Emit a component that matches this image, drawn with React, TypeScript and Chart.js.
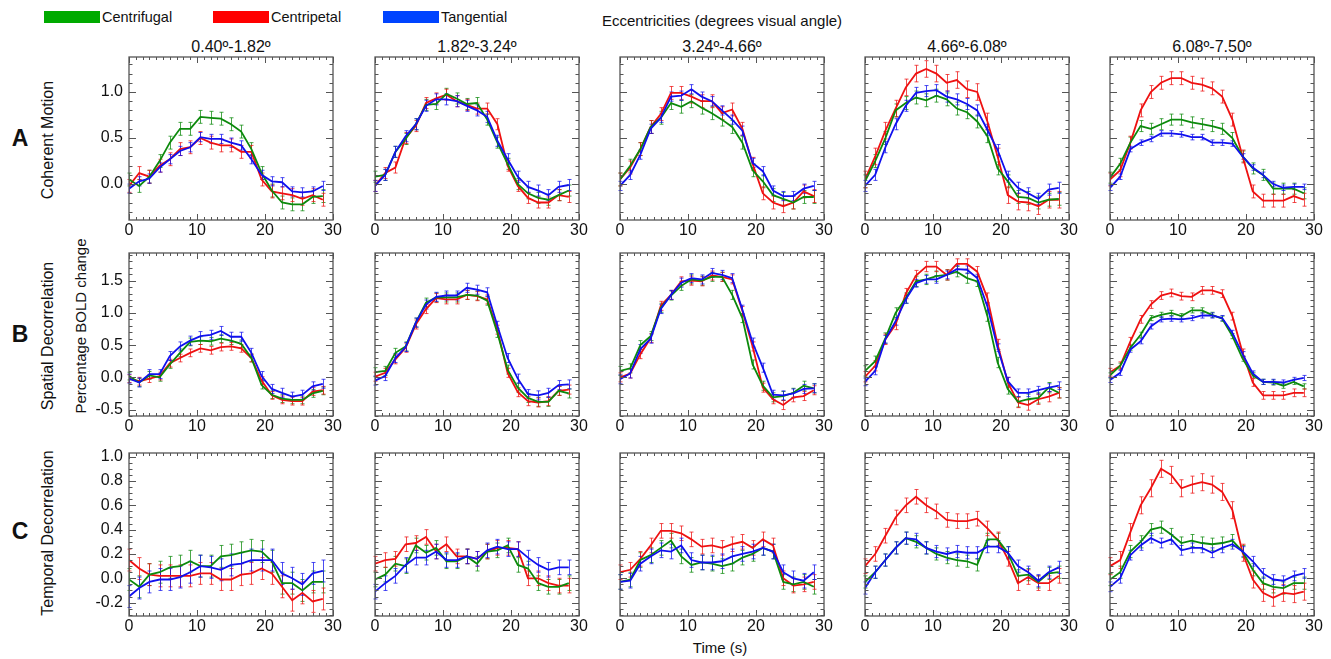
import React, { useEffect, useRef } from "react";
import { Chart, registerables } from "chart.js";

Chart.register(...registerables);

const FONT = '"Liberation Sans", Arial, Helvetica, sans-serif';
Chart.defaults.font.family = FONT;

// ---------- DATA ----------
const times = [0, 1.5, 3, 4.5, 6, 7.5, 9, 10.5, 12, 13.5, 15, 16.5, 18, 19.5, 21, 22.5, 24, 25.5, 27, 28.5];

const seriesNames = ["Centrifugal", "Centripetal", "Tangential"];
const columnTitles = ["0.40º-1.82º", "1.82º-3.24º", "3.24º-4.66º", "4.66º-6.08º", "6.08º-7.50º"];
const rowLetters = ["A", "B", "C"];
const rowTitles = ["Coherent Motion", "Spatial Decorrelation", "Temporal Decorrelation"];
const supTitle = "Eccentricities (degrees visual angle)";
const yAxisTitle = "Percentage BOLD change";
const xAxisTitle = "Time (s)";

const xTickValues = [0, 10, 20, 30];
const yTicksA = [0, 0.5, 1.0];
const yTicksB = [-0.5, 0, 0.5, 1.0, 1.5];
const yTicksC = [-0.2, 0, 0.2, 0.4, 0.6, 0.8, 1.0];
const yRangeA = [-0.39, 1.38];
const yRangeB = [-0.6, 1.93];
const yRangeC = [-0.31, 1.03];

// Row A: Coherent Motion (green = centrifugal, red = centripetal, blue = tangential)
const A1_green = [0.05, -0.02, 0.08, 0.25, 0.45, 0.6, 0.6, 0.73, 0.72, 0.71, 0.65, 0.57, 0.38, 0.12, -0.07, -0.2, -0.22, -0.22, -0.14, -0.13];
const A1_red = [-0.02, 0.12, 0.08, 0.2, 0.27, 0.38, 0.4, 0.5, 0.45, 0.42, 0.42, 0.35, 0.35, 0.05, -0.08, -0.1, -0.12, -0.16, -0.12, -0.17];
const A1_blue = [-0.05, 0.03, 0.06, 0.18, 0.27, 0.36, 0.4, 0.51, 0.49, 0.49, 0.45, 0.42, 0.27, 0.1, 0.03, 0.02, -0.08, -0.09, -0.08, -0.02];
const A2_green = [0.08, 0.1, 0.35, 0.49, 0.65, 0.86, 0.87, 0.98, 0.93, 0.87, 0.88, 0.7, 0.45, 0.22, 0.0, -0.1, -0.15, -0.17, -0.12, -0.07];
const A2_red = [-0.02, 0.12, 0.18, 0.5, 0.63, 0.88, 0.93, 0.97, 0.9, 0.86, 0.82, 0.82, 0.65, 0.2, -0.02, -0.15, -0.2, -0.2, -0.12, -0.14];
const A2_blue = [-0.02, 0.1, 0.35, 0.52, 0.65, 0.85, 0.92, 0.92, 0.9, 0.85, 0.8, 0.73, 0.47, 0.27, 0.08, -0.03, -0.07, -0.12, -0.03, -0.01];
const A3_green = [0.05, 0.2, 0.38, 0.62, 0.72, 0.88, 0.84, 0.9, 0.83, 0.77, 0.7, 0.62, 0.45, 0.15, 0.03, -0.12, -0.16, -0.2, -0.14, -0.14];
const A3_red = [0.05, 0.18, 0.38, 0.62, 0.76, 0.99, 0.99, 0.95, 0.9, 0.9, 0.77, 0.81, 0.6, 0.22, -0.1, -0.2, -0.24, -0.2, -0.08, -0.13];
const A3_blue = [-0.02, 0.1, 0.32, 0.6, 0.72, 0.95, 0.96, 1.03, 0.95, 0.9, 0.8, 0.7, 0.58, 0.23, 0.14, -0.07, -0.13, -0.13, -0.05, -0.02];
const A4_green = [0.03, 0.25, 0.5, 0.8, 0.88, 0.94, 0.91, 0.96, 0.92, 0.82, 0.78, 0.68, 0.52, 0.17, 0.03, -0.14, -0.15, -0.2, -0.17, -0.16];
const A4_red = [0.05, 0.3, 0.58, 0.82, 1.05, 1.2, 1.25, 1.2, 1.1, 1.13, 1.03, 1.0, 0.68, 0.3, -0.12, -0.19, -0.2, -0.24, -0.17, -0.17];
const A4_blue = [-0.02, 0.1, 0.4, 0.65, 0.85, 0.99, 1.01, 1.02, 0.95, 0.92, 0.87, 0.8, 0.59, 0.37, 0.08, -0.04, -0.1, -0.16, -0.06, -0.04];
const A5_green = [0.07, 0.22, 0.45, 0.63, 0.6, 0.65, 0.7, 0.7, 0.67, 0.65, 0.63, 0.6, 0.5, 0.3, 0.17, 0.1, -0.05, -0.05, -0.05, -0.1];
const A5_red = [0.05, 0.15, 0.45, 0.8, 1.0, 1.1, 1.15, 1.15, 1.1, 1.08, 1.04, 0.95, 0.7, 0.3, -0.08, -0.18, -0.18, -0.18, -0.13, -0.17];
const A5_blue = [-0.04, 0.08, 0.38, 0.45, 0.49, 0.55, 0.55, 0.54, 0.51, 0.51, 0.45, 0.45, 0.44, 0.3, 0.18, 0.1, 0.0, -0.04, -0.03, -0.03];

// Row B: Spatial Decorrelation
const B1_green = [0.02, -0.08, 0.03, 0.0, 0.2, 0.38, 0.55, 0.57, 0.56, 0.6, 0.57, 0.52, 0.3, -0.12, -0.27, -0.33, -0.35, -0.35, -0.25, -0.21];
const B1_red = [-0.02, -0.06, -0.02, 0.02, 0.22, 0.3, 0.38, 0.45, 0.42, 0.47, 0.48, 0.45, 0.3, -0.05, -0.28, -0.35, -0.37, -0.37, -0.22, -0.2];
const B1_blue = [-0.02, -0.08, 0.05, 0.05, 0.33, 0.48, 0.57, 0.64, 0.66, 0.72, 0.63, 0.63, 0.38, 0.02, -0.18, -0.24, -0.3, -0.27, -0.14, -0.1];
const B2_green = [0.08, 0.1, 0.38, 0.48, 0.85, 1.16, 1.24, 1.24, 1.24, 1.28, 1.27, 1.19, 0.69, 0.12, -0.16, -0.32, -0.38, -0.38, -0.21, -0.25];
const B2_red = [0.01, 0.07, 0.28, 0.46, 0.82, 1.06, 1.23, 1.21, 1.21, 1.28, 1.26, 1.21, 0.74, 0.07, -0.23, -0.37, -0.39, -0.37, -0.21, -0.19];
const B2_blue = [-0.05, 0.02, 0.3, 0.47, 0.85, 1.13, 1.25, 1.27, 1.27, 1.39, 1.36, 1.32, 0.8, 0.3, -0.02, -0.26, -0.28, -0.24, -0.12, -0.11];
const B3_green = [0.1, 0.14, 0.5, 0.64, 1.08, 1.27, 1.42, 1.52, 1.5, 1.56, 1.56, 1.28, 0.92, 0.2, -0.13, -0.31, -0.29, -0.24, -0.13, -0.17];
const B3_red = [0.0, 0.06, 0.36, 0.61, 1.11, 1.28, 1.49, 1.5, 1.49, 1.58, 1.56, 1.52, 1.03, 0.48, -0.16, -0.34, -0.43, -0.31, -0.29, -0.2];
const B3_blue = [-0.03, 0.06, 0.44, 0.6, 1.06, 1.28, 1.47, 1.54, 1.52, 1.62, 1.59, 1.54, 1.05, 0.54, 0.15, -0.27, -0.28, -0.25, -0.18, -0.17];
const B4_green = [0.1, 0.25, 0.61, 1.0, 1.23, 1.49, 1.52, 1.57, 1.59, 1.64, 1.54, 1.49, 0.95, 0.23, -0.18, -0.38, -0.34, -0.32, -0.16, -0.24];
const B4_red = [0.01, 0.18, 0.59, 0.82, 1.3, 1.58, 1.72, 1.72, 1.59, 1.76, 1.76, 1.64, 1.23, 0.51, -0.08, -0.39, -0.43, -0.34, -0.3, -0.24];
const B4_blue = [-0.07, 0.1, 0.59, 0.87, 1.21, 1.46, 1.52, 1.52, 1.59, 1.68, 1.67, 1.54, 1.1, 0.46, -0.06, -0.24, -0.24, -0.2, -0.16, -0.13];
const B5_green = [0.03, 0.18, 0.46, 0.66, 0.92, 0.97, 1.0, 0.95, 1.04, 1.04, 0.97, 0.91, 0.64, 0.29, 0.03, -0.07, -0.08, -0.13, -0.07, -0.14];
const B5_red = [0.08, 0.18, 0.56, 0.9, 1.13, 1.27, 1.31, 1.26, 1.25, 1.35, 1.35, 1.3, 0.95, 0.38, -0.08, -0.28, -0.28, -0.28, -0.24, -0.24];
const B5_blue = [-0.04, 0.07, 0.43, 0.56, 0.79, 0.9, 0.91, 0.9, 0.92, 0.96, 0.96, 0.92, 0.69, 0.36, 0.06, -0.07, -0.07, -0.08, -0.04, -0.01];

// Row C: Temporal Decorrelation
const C1_green = [-0.01, -0.07, 0.03, 0.05, 0.09, 0.1, 0.14, 0.1, 0.1, 0.18, 0.19, 0.21, 0.23, 0.22, 0.14, -0.04, -0.04, -0.1, -0.03, -0.03];
const C1_red = [0.15, 0.08, 0.03, 0.02, 0.02, 0.02, 0.02, 0.04, 0.04, -0.01, -0.01, 0.03, 0.04, 0.08, 0.04, -0.07, -0.18, -0.12, -0.19, -0.17];
const C1_blue = [-0.15, -0.08, -0.03, -0.01, -0.01, 0.01, 0.05, 0.1, 0.09, 0.07, 0.11, 0.12, 0.15, 0.15, 0.15, 0.04, 0.0, -0.05, 0.04, 0.06];
const C2_green = [-0.01, 0.03, 0.12, 0.1, 0.27, 0.21, 0.25, 0.14, 0.14, 0.18, 0.12, 0.22, 0.23, 0.27, 0.11, 0.08, -0.04, -0.07, -0.07, -0.04];
const C2_red = [0.12, 0.15, 0.16, 0.28, 0.29, 0.34, 0.22, 0.28, 0.18, 0.18, 0.16, 0.22, 0.25, 0.25, 0.24, 0.0, 0.0, -0.04, -0.06, -0.06];
const C2_blue = [-0.11, -0.04, 0.02, 0.11, 0.17, 0.17, 0.22, 0.15, 0.15, 0.18, 0.16, 0.23, 0.26, 0.24, 0.24, 0.17, 0.11, 0.07, 0.09, 0.09];
const C3_green = [-0.03, -0.01, 0.15, 0.19, 0.25, 0.31, 0.18, 0.11, 0.13, 0.12, 0.1, 0.12, 0.17, 0.2, 0.25, 0.22, -0.03, -0.05, -0.03, -0.07];
const C3_red = [0.05, 0.07, 0.16, 0.27, 0.39, 0.39, 0.37, 0.32, 0.26, 0.27, 0.25, 0.28, 0.3, 0.25, 0.32, 0.27, 0.0, -0.06, -0.05, -0.03];
const C3_blue = [-0.03, -0.02, 0.12, 0.18, 0.23, 0.22, 0.27, 0.15, 0.13, 0.13, 0.14, 0.18, 0.2, 0.22, 0.25, 0.22, 0.05, 0.0, -0.02, 0.05];
const C4_green = [-0.03, 0.05, 0.15, 0.25, 0.33, 0.3, 0.25, 0.2, 0.17, 0.15, 0.14, 0.11, 0.32, 0.32, 0.21, 0.02, 0.03, -0.03, 0.04, 0.05];
const C4_red = [0.1, 0.2, 0.35, 0.5, 0.6, 0.67, 0.6, 0.55, 0.48, 0.47, 0.47, 0.49, 0.41, 0.32, 0.16, -0.04, 0.01, -0.04, -0.04, 0.02];
const C4_blue = [-0.08, 0.05, 0.15, 0.25, 0.33, 0.32, 0.25, 0.22, 0.2, 0.22, 0.21, 0.21, 0.26, 0.26, 0.21, 0.1, 0.05, -0.02, 0.05, 0.09];
const C5_green = [-0.01, 0.05, 0.22, 0.3, 0.4, 0.42, 0.36, 0.29, 0.31, 0.29, 0.28, 0.29, 0.31, 0.22, 0.07, -0.04, -0.07, -0.08, -0.04, -0.04];
const C5_red = [0.1, 0.15, 0.38, 0.6, 0.74, 0.9, 0.85, 0.74, 0.77, 0.79, 0.77, 0.71, 0.56, 0.21, -0.01, -0.12, -0.16, -0.12, -0.13, -0.11];
const C5_blue = [-0.07, 0.0, 0.19, 0.27, 0.33, 0.29, 0.32, 0.23, 0.25, 0.25, 0.21, 0.25, 0.28, 0.22, 0.14, 0.04, -0.01, -0.02, 0.02, 0.04];

// typical error-bar half lengths per panel: [green, red, blue]
const errA = [[0.07, 0.07, 0.05], [0.06, 0.06, 0.06], [0.07, 0.07, 0.05], [0.07, 0.09, 0.06], [0.06, 0.07, 0.03]];
const errB = [[0.06, 0.06, 0.07], [0.07, 0.07, 0.07], [0.07, 0.07, 0.07], [0.08, 0.08, 0.06], [0.04, 0.06, 0.04]];
const errC = [[0.09, 0.09, 0.09], [0.06, 0.06, 0.06], [0.06, 0.06, 0.06], [0.05, 0.06, 0.05], [0.05, 0.07, 0.04]];

// ---------- STYLE / LAYOUT ----------
const lineColors = ["#0c8a0c", "#ee1111", "#1010ee"];
const barColors = ["rgba(12,138,12,0.75)", "rgba(238,17,17,0.75)", "rgba(16,16,238,0.75)"];
const legendColors = ["#00aa00", "#ff0000", "#0044ff"];
const drawOrder = [1, 2, 0];

const colLeft = [129, 375, 620, 865, 1110];
const rowTop = [57, 253, 453];
const PW = 204;
const PH = 163;
const AXIS_W = 44;
const AXIS_H = 24;
const PAD_T = 4;
const PAD_R = 16;

const rows = [
  { data: [[A1_green, A1_red, A1_blue], [A2_green, A2_red, A2_blue], [A3_green, A3_red, A3_blue], [A4_green, A4_red, A4_blue], [A5_green, A5_red, A5_blue]], err: errA, ticks: yTicksA, range: yRangeA, minor: 0.1 },
  { data: [[B1_green, B1_red, B1_blue], [B2_green, B2_red, B2_blue], [B3_green, B3_red, B3_blue], [B4_green, B4_red, B4_blue], [B5_green, B5_red, B5_blue]], err: errB, ticks: yTicksB, range: yRangeB, minor: 0.1 },
  { data: [[C1_green, C1_red, C1_blue], [C2_green, C2_red, C2_blue], [C3_green, C3_red, C3_blue], [C4_green, C4_red, C4_blue], [C5_green, C5_red, C5_blue]], err: errC, ticks: yTicksC, range: yRangeC, minor: 0.05 },
];

const errorBarPlugin = {
  id: "errorBars",
  beforeDatasetsDraw(chart: any) {
    const ctx = chart.ctx;
    const xs = chart.scales.x;
    const ys = chart.scales.y;
    ctx.save();
    ctx.lineWidth = 1;
    chart.data.datasets.forEach((ds: any) => {
      ctx.strokeStyle = ds.barColor;
      ds.data.forEach((p: any) => {
        const x = Math.round(xs.getPixelForValue(p.x)) + 0.5;
        const y1 = ys.getPixelForValue(p.y + ds.errorBar);
        const y2 = ys.getPixelForValue(p.y - ds.errorBar);
        ctx.beginPath();
        ctx.moveTo(x, y1);
        ctx.lineTo(x, y2);
        ctx.moveTo(x - 2, y1);
        ctx.lineTo(x + 2, y1);
        ctx.moveTo(x - 2, y2);
        ctx.lineTo(x + 2, y2);
        ctx.stroke();
      });
    });
    ctx.restore();
  },
};

const frameTickPlugin = {
  id: "frameTicks",
  afterDraw(chart: any) {
    const ctx = chart.ctx;
    const a = chart.chartArea;
    const xs = chart.scales.x;
    const ys = chart.scales.y;
    const minor = chart.options.plugins.frameTicks.minor;
    const majors = chart.options.plugins.frameTicks.majors;
    ctx.save();
    ctx.strokeStyle = "#555";
    ctx.lineWidth = 1;
    ctx.beginPath();
    for (let t = 0; t <= 30; t += 1) {
      const x = Math.round(xs.getPixelForValue(t)) + 0.5;
      const len = t % 10 === 0 ? 6 : 3;
      ctx.moveTo(x, a.bottom);
      ctx.lineTo(x, a.bottom - len);
      ctx.moveTo(x, a.top);
      ctx.lineTo(x, a.top + len);
    }
    const lo = Math.ceil(ys.min / minor - 1e-6);
    const hi = Math.floor(ys.max / minor + 1e-6);
    for (let k = lo; k <= hi; k++) {
      const v = k * minor;
      const isMajor = majors.some((m: number) => Math.abs(m - v) < 1e-6);
      const y = Math.round(ys.getPixelForValue(v)) + 0.5;
      const len = isMajor ? 7 : 3.5;
      ctx.moveTo(a.left, y);
      ctx.lineTo(a.left + len, y);
      ctx.moveTo(a.right, y);
      ctx.lineTo(a.right - len, y);
    }
    ctx.stroke();
    ctx.lineWidth = 1.3;
    ctx.strokeRect(a.left, a.top, a.right - a.left, a.bottom - a.top);
    ctx.restore();
  },
};

function Panel({ row, col }: { row: number; col: number }) {
  const ref = useRef<HTMLCanvasElement>(null);
  const cw = AXIS_W + PW + PAD_R;
  const ch = PAD_T + PH + AXIS_H;
  const left = colLeft[col] - AXIS_W;
  const top = rowTop[row] - PAD_T;

  useEffect(() => {
    const spec = rows[row];
    const series = spec.data[col];
    const errs = spec.err[col];
    const datasets = series.map((vals, s) => ({
      label: seriesNames[s],
      data: times.map((t, i) => ({ x: t, y: vals[i] })),
      borderColor: lineColors[s],
      backgroundColor: lineColors[s],
      borderWidth: 1.8,
      pointRadius: 0,
      tension: 0,
      fill: false,
      order: drawOrder[s],
      errorBar: errs[s],
      barColor: barColors[s],
    }));
    const noPad = (s: any) => {
      s.paddingLeft = 0;
      s.paddingRight = 0;
      s.paddingTop = 0;
      s.paddingBottom = 0;
    };
    const chart = new Chart(ref.current as HTMLCanvasElement, {
      type: "line",
      data: { datasets } as any,
      plugins: [errorBarPlugin, frameTickPlugin],
      options: {
        responsive: false,
        animation: false,
        devicePixelRatio: 1,
        events: [],
        layout: { padding: { left: 0, right: PAD_R, top: PAD_T, bottom: 0 } },
        plugins: {
          legend: { display: false },
          tooltip: { enabled: false },
          frameTicks: { minor: spec.minor, majors: spec.ticks },
        } as any,
        scales: {
          x: {
            type: "linear",
            min: 0,
            max: 30,
            grid: { display: false, drawTicks: false, tickLength: 0 },
            border: { display: false },
            ticks: {
              font: { size: 16, family: FONT },
              color: "#111",
              padding: 1,
              maxRotation: 0,
              autoSkip: false,
              callback: (v: any) => String(v),
            },
            afterBuildTicks: (s: any) => {
              s.ticks = xTickValues.map((v) => ({ value: v }));
            },
            afterFit: (s: any) => {
              s.height = AXIS_H;
              noPad(s);
            },
          },
          y: {
            type: "linear",
            min: spec.range[0],
            max: spec.range[1],
            grid: { display: false, drawTicks: false, tickLength: 0 },
            border: { display: false },
            ticks: {
              display: col === 0,
              font: { size: 16, family: FONT },
              color: "#111",
              padding: 6,
              autoSkip: false,
              callback: (v: any) => Number(v).toFixed(1),
            },
            afterBuildTicks: (s: any) => {
              s.ticks = spec.ticks.map((v) => ({ value: v }));
            },
            afterFit: (s: any) => {
              s.width = AXIS_W;
              noPad(s);
            },
          },
        },
      } as any,
    });
    return () => chart.destroy();
  }, [row, col]);

  return (
    <canvas
      ref={ref}
      width={cw}
      height={ch}
      style={{ position: "absolute", left, top, width: cw, height: ch }}
    />
  );
}

const centered = (x: number, y: number, extra: any = {}) => ({
  position: "absolute" as const,
  left: x,
  top: y,
  transform: "translate(-50%, -50%)",
  whiteSpace: "nowrap" as const,
  ...extra,
});

const vertical = (x: number, y: number, extra: any = {}) => ({
  position: "absolute" as const,
  left: x,
  top: y,
  transform: "translate(-50%, -50%) rotate(-90deg)",
  whiteSpace: "nowrap" as const,
  ...extra,
});

const legendBarLeft = [44, 213, 383];
const rowLabelY = [140, 336, 533];

export default function App() {
  return (
    <div
      style={{
        position: "absolute",
        left: 0,
        top: 0,
        width: 1331,
        height: 659,
        background: "#fff",
        fontFamily: FONT,
        color: "#111",
        overflow: "hidden",
      }}
    >
      {seriesNames.map((name, i) => (
        <React.Fragment key={name}>
          <div
            style={{
              position: "absolute",
              left: legendBarLeft[i],
              top: 11,
              width: 56,
              height: 12,
              background: legendColors[i],
            }}
          />
          <div style={{ position: "absolute", left: legendBarLeft[i] + 58, top: 8, fontSize: 14.5, lineHeight: "18px", whiteSpace: "nowrap" }}>
            {name}
          </div>
        </React.Fragment>
      ))}
      <div style={centered(722, 20, { fontSize: 15 })}>{supTitle}</div>
      {columnTitles.map((t, c) => (
        <div key={t} style={centered(colLeft[c] + PW / 2, 47, { fontSize: 16 })}>
          {t}
        </div>
      ))}
      {rowLetters.map((l, r) => (
        <div key={l} style={centered(20, rowLabelY[r] - 2, { fontSize: 23, fontWeight: "bold" })}>
          {l}
        </div>
      ))}
      {rowTitles.map((t, r) => (
        <div key={t} style={vertical(48, rowLabelY[r], { fontSize: 16 })}>
          {t}
        </div>
      ))}
      <div style={vertical(80, 326, { fontSize: 15 })}>{yAxisTitle}</div>
      <div style={centered(720, 647, { fontSize: 15 })}>{xAxisTitle}</div>
      {rows.map((_, r) => colLeft.map((__, c) => <Panel key={`${r}-${c}`} row={r} col={c} />))}
    </div>
  );
}
